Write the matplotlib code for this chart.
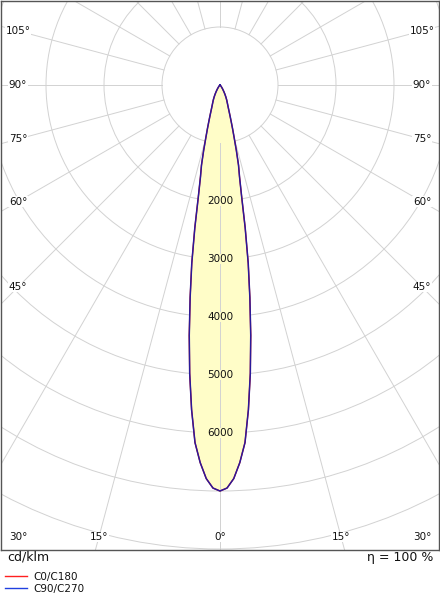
import numpy as np
import matplotlib
matplotlib.use('Agg')
import matplotlib.pyplot as plt
from matplotlib.lines import Line2D
from matplotlib.patches import Circle

# Luminous intensity (cd/klm) against the angle from nadir
GAMMA = [0, 1, 2, 3, 4, 5, 6, 7, 8, 9, 10, 11, 12, 13, 14, 15, 16, 17, 18, 19, 20,
         22, 24, 26, 28, 30, 33, 36, 40, 45, 50, 55, 90]
I_C0_C180 = [7000, 6950, 6790, 6520, 6180, 5620, 5000, 4350, 3700, 3110, 2500, 1950,
             1620, 1420, 1170, 950, 790, 660, 560, 480, 420,
             340, 285, 230, 180, 135, 85, 50, 25, 10, 3, 0, 0]
I_C90_C270 = [7000, 6950, 6790, 6520, 6180, 5620, 5000, 4350, 3700, 3110, 2500, 1950,
              1620, 1420, 1170, 950, 790, 660, 560, 480, 420,
              340, 285, 230, 180, 135, 85, 50, 25, 10, 3, 0, 0]

RINGS = [1000, 2000, 3000, 4000, 5000, 6000, 7000, 8000]
RING_LABELS = [2000, 3000, 4000, 5000, 6000]
SIDE_ANGLES = [45, 60, 75, 90, 105]
BOTTOM_ANGLES = [0, 15, 30]

GRID = '#d2d2d2'
FILL = '#fffdc8'
TEXT = '#111111'


def polar_to_xy(gamma, intensity):
    # both halves of one C-plane, gamma measured from straight down
    g = np.radians(np.concatenate([-np.array(gamma[::-1]), np.array(gamma[1:])]))
    r = np.concatenate([np.array(intensity[::-1]), np.array(intensity[1:])])
    return r * np.sin(g), -r * np.cos(g)


def main():
    fig = plt.figure(figsize=(4.4, 6.0), dpi=100)
    ax = fig.add_axes([1 / 440, 50 / 600, 438 / 440, 549 / 600])
    ax.set_xlim(-3776, 3776)
    ax.set_ylim(-8017, 1448)
    ax.set_xticks([])
    ax.set_yticks([])
    for sp in ax.spines.values():
        sp.set_color('#555555')
        sp.set_linewidth(1.0)

    # Grid: rings and radial lines every 15 deg outside the first ring
    for r in RINGS:
        ax.add_patch(Circle((0, 0), r, fill=False, ec=GRID, lw=0.7, zorder=1))
    for a in range(0, 360, 15):
        t = np.radians(a)
        ax.plot([1000 * np.sin(t), 12000 * np.sin(t)],
                [-1000 * np.cos(t), -12000 * np.cos(t)], color=GRID, lw=0.7, zorder=1)

    # Curves
    x0, y0 = polar_to_xy(GAMMA, I_C0_C180)
    x90, y90 = polar_to_xy(GAMMA, I_C90_C270)
    ax.fill(x0, y0, color=FILL, zorder=2)
    ax.plot([0, 0], [-1000, -8000], color=GRID, lw=0.7, zorder=2.5)
    ax.plot(x0, y0, color='#ff0000', lw=0.9, zorder=3)
    ax.plot(x90, y90, color='#2a1a9a', lw=1.1, zorder=4)

    for v in RING_LABELS:
        ax.text(0, -v, str(v), ha='center', va='center', fontsize=7.5, color=TEXT,
                zorder=5, bbox=dict(fc=FILL, ec='none', pad=0.3))

    # Angle labels
    xl, yb = 3483, -7793
    for a in SIDE_ANGLES:
        y = -xl / np.tan(np.radians(a)) if a != 90 else 0
        for s in (-1, 1):
            ax.text(s * xl, y, f'{a}°', ha='center', va='center', fontsize=7.5,
                    color=TEXT, zorder=5,
                    bbox=dict(fc='white', ec='none', pad=0.3))
    for a in BOTTOM_ANGLES:
        x = min(-yb * np.tan(np.radians(a)), xl)
        for s in ((1,) if a == 0 else (-1, 1)):
            ax.text(s * x, yb, f'{a}°', ha='center', va='center', fontsize=7.5,
                    color=TEXT, zorder=5,
                    bbox=dict(fc='white', ec='none', pad=0.3))

    fig.text(7 / 440, 1 - 557 / 600, 'cd/klm', ha='left', va='center', fontsize=9,
             color=TEXT)
    fig.text(433 / 440, 1 - 557 / 600, 'η = 100 %', ha='right', va='center',
             fontsize=9, color=TEXT)

    handles = [Line2D([], [], color='#ff2020', lw=1),
               Line2D([], [], color='#2040e0', lw=1)]
    fig.legend(handles, ['C0/C180', 'C90/C270'], loc='upper left',
               bbox_to_anchor=(5 / 440, 1 - 572 / 600), frameon=False, fontsize=7.5,
               labelcolor=TEXT, handlelength=2.1, handletextpad=0.6, labelspacing=0.2,
               borderpad=0, borderaxespad=0)

    fig.savefig('out.png', dpi=100, facecolor='white')
    plt.close(fig)


if __name__ == '__main__':
    main()
